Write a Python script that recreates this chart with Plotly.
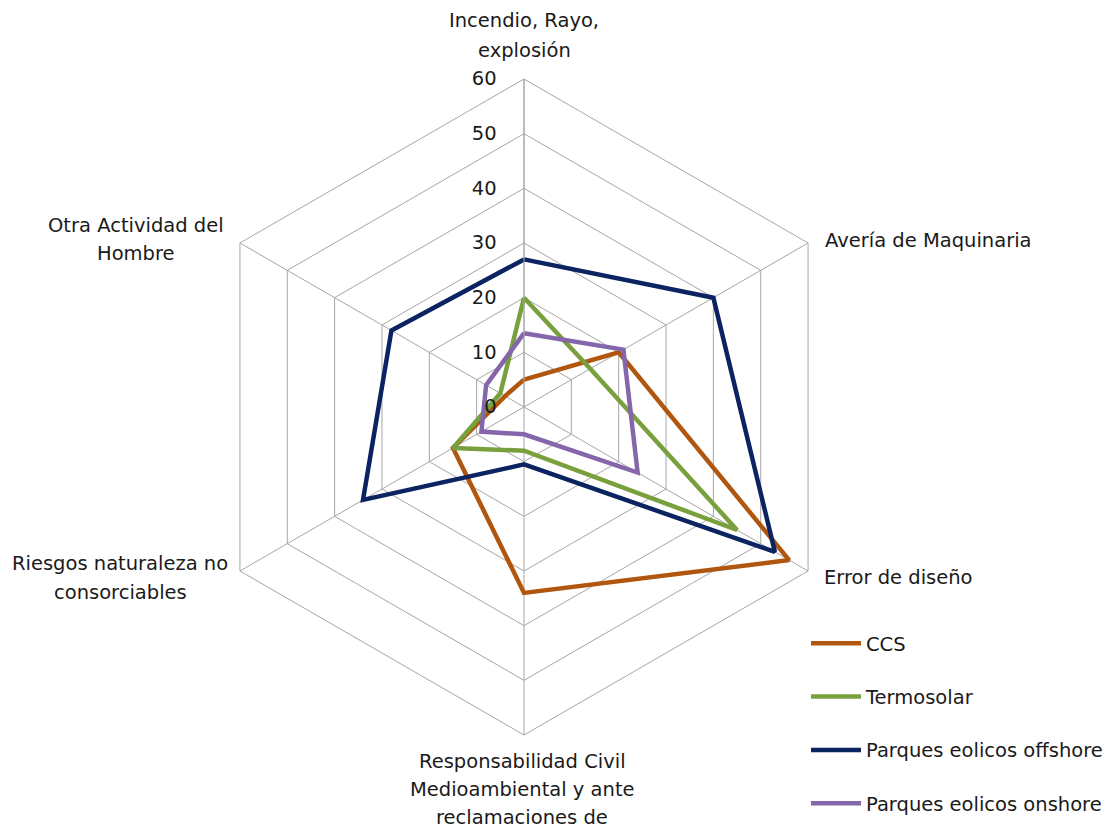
import plotly.graph_objects as go

categories = [
    "Incendio, Rayo, explosión",
    "Avería de Maquinaria",
    "Error de diseño",
    "Responsabilidad Civil Medioambiental y ante reclamaciones de",
    "Riesgos naturaleza no consorciables",
    "Otra Actividad del Hombre",
]

ccs = [5, 20, 56, 34, 15, 4]
termosolar = [20, 14, 45, 8, 15, 5]
offshore = [27, 40, 53, 10.5, 34, 28]
onshore = [13.5, 21, 24, 5, 9, 8]

series_names = ["CCS", "Termosolar", "Parques eolicos offshore", "Parques eolicos onshore"]
series_values = [ccs, termosolar, offshore, onshore]
series_colors = ["#B0560F", "#78A03C", "#0B2360", "#8566AA"]

radial_ticks = [0, 10, 20, 30, 40, 50, 60]

FONT = "DejaVu Sans"
FS = 19.5
TEXT_COLOR = "#1a1a1a"
GRID = "#a6a6a6"
W, H = 1114, 829

fig = go.Figure()
for name, vals, col in zip(series_names, series_values, series_colors):
    fig.add_trace(go.Scatterpolar(
        r=vals + vals[:1],
        theta=categories + categories[:1],
        mode="lines",
        name=name,
        legendgroup=name,
        line=dict(color=col, width=4.5),
    ))

# category labels around the hexagon: (lines, x, first line y, line step, anchor)
label_blocks = [
    (["Incendio, Rayo,", "explosión"], 524, 21, 29, "center"),
    (["Avería de Maquinaria"], 823, 240, 29, "left"),
    (["Error de diseño"], 822, 577, 29, "left"),
    (["Responsabilidad Civil", "Medioambiental y ante", "reclamaciones de"], 522, 761, 28, "center"),
    (["Riesgos naturaleza no", "consorciables"], 120, 563, 29, "center"),
    (["Otra Actividad del", "Hombre"], 136, 225, 29, "center"),
]
annotations = []
for lines, cx, y0, step, anchor in label_blocks:
    for i, line in enumerate(lines):
        annotations.append(dict(
            text=line, x=cx / W, y=1 - (y0 + i * step) / H,
            xref="paper", yref="paper", xanchor=anchor, yanchor="middle",
            showarrow=False,
            font=dict(family=FONT, size=FS, color=TEXT_COLOR),
        ))

fig.update_layout(
    width=W, height=H,
    margin=dict(l=0, r=0, t=0, b=0),
    paper_bgcolor="white",
    plot_bgcolor="white",
    font=dict(family=FONT, size=FS, color=TEXT_COLOR),
    polar=dict(
        domain=dict(x=[196 / W, 852 / W], y=[94 / H, 750 / H]),
        bgcolor="white",
        gridshape="linear",
        radialaxis=dict(
            range=[0, 60],
            tickvals=radial_ticks,
            ticktext=[str(v) for v in radial_ticks],
            angle=90,
            tickangle=90,
            side="counterclockwise",
            showline=True,
            linecolor=GRID,
            linewidth=1,
            gridcolor=GRID,
            gridwidth=1,
            ticks="outside",
            ticklen=20,
            tickcolor="rgba(0,0,0,0)",
            tickfont=dict(family=FONT, size=FS, color=TEXT_COLOR),
        ),
        angularaxis=dict(
            rotation=90,
            direction="clockwise",
            showticklabels=False,
            ticks="",
            showline=True,
            linecolor=GRID,
            linewidth=1,
            gridcolor=GRID,
            gridwidth=1,
        ),
    ),
    showlegend=True,
    legend=dict(
        x=806 / W, y=1 - 624 / H, xanchor="left", yanchor="top",
        font=dict(family=FONT, size=FS, color=TEXT_COLOR),
        tracegroupgap=25,
        bgcolor="rgba(0,0,0,0)",
        itemwidth=50,
    ),
    annotations=annotations,
)

fig.write_html("out.html")
